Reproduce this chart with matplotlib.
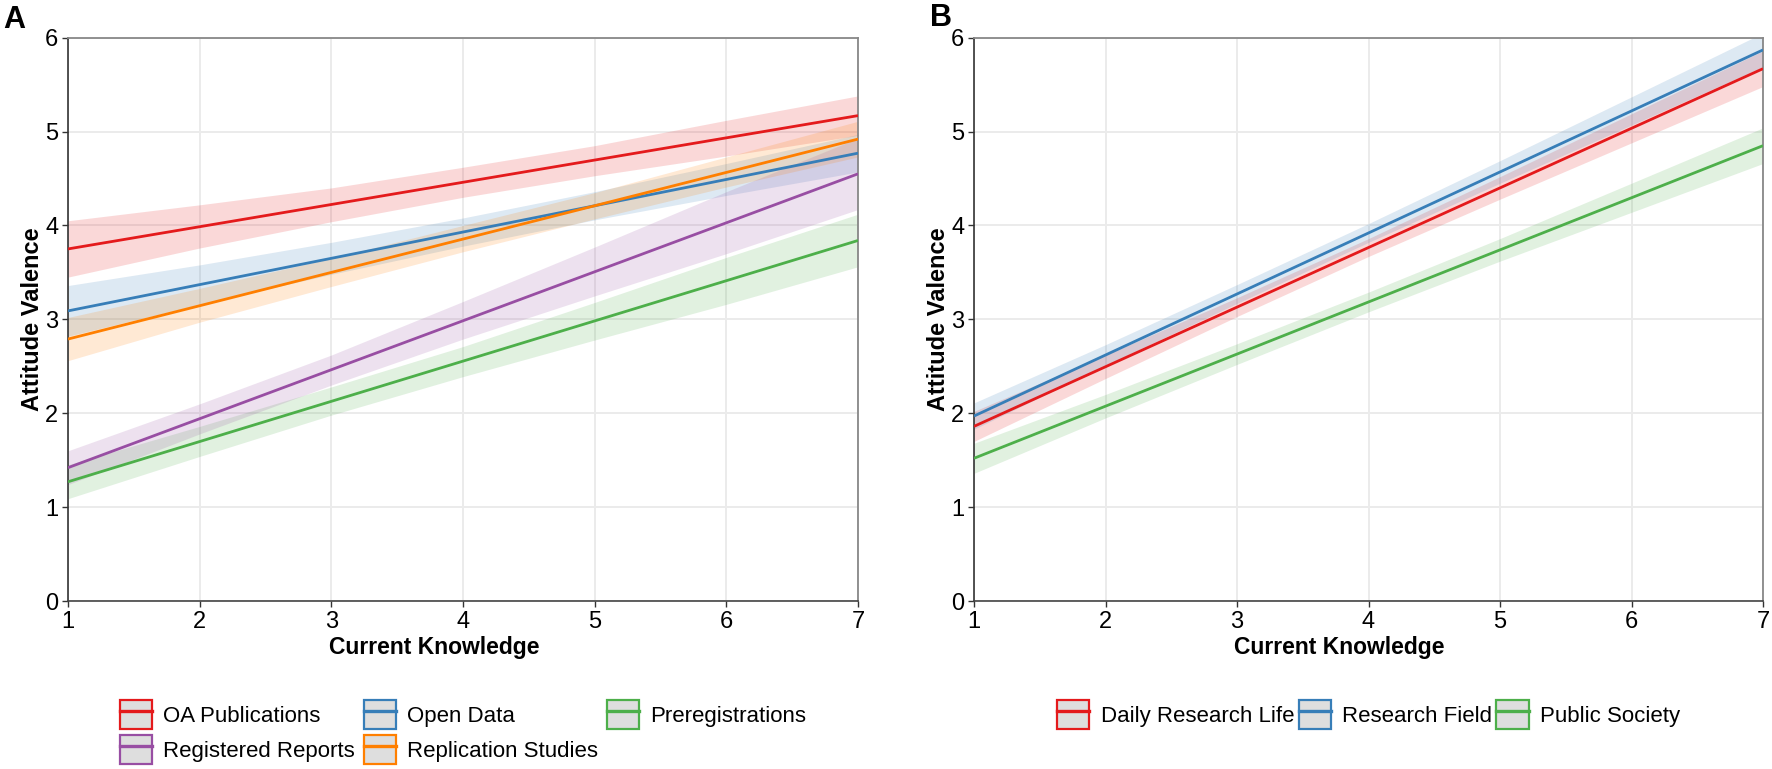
import matplotlib
matplotlib.use("Agg")
import matplotlib.pyplot as plt
from matplotlib.patches import Patch
from matplotlib.lines import Line2D

plt.rcParams['font.family'] = ['Liberation Sans', 'DejaVu Sans']

# ---------------- data ----------------
x_knots = [1, 2, 3, 4, 5, 6, 7]
x_ends = [1, 7]

# Panel A
a_names = ["OA Publications", "Open Data", "Preregistrations",
           "Registered Reports", "Replication Studies"]
a_colors = ["#E41A1C", "#377EB8", "#4DAF4A", "#984EA3", "#FF7F00"]
a_fit = [
    [3.75, 5.17],
    [3.09, 4.77],
    [1.27, 3.84],
    [1.42, 4.55],
    [2.79, 4.92],
]
a_lower = [
    [3.45, 3.76, 4.04, 4.30, 4.53, 4.74, 4.96],
    [2.82, 3.16, 3.48, 3.78, 4.06, 4.32, 4.57],
    [1.09, 1.54, 1.98, 2.39, 2.78, 3.16, 3.56],
    [1.24, 1.78, 2.30, 2.79, 3.25, 3.70, 4.17],
    [2.56, 2.97, 3.35, 3.72, 4.07, 4.41, 4.73],
]
a_upper = [
    [4.05, 4.22, 4.40, 4.62, 4.85, 5.12, 5.38],
    [3.36, 3.58, 3.82, 4.08, 4.36, 4.66, 4.97],
    [1.45, 1.86, 2.28, 2.71, 3.18, 3.66, 4.12],
    [1.60, 2.10, 2.62, 3.19, 3.77, 4.36, 4.93],
    [3.02, 3.33, 3.65, 4.00, 4.35, 4.73, 5.11],
]

# Panel B
b_names = ["Daily Research Life", "Research Field", "Public Society"]
b_colors = ["#E41A1C", "#377EB8", "#4DAF4A"]
b_fit = [
    [1.86, 5.67],
    [1.97, 5.87],
    [1.52, 4.85],
]
b_lower = [
    [1.70, 2.37, 3.03, 3.67, 4.28, 4.88, 5.48],
    [1.83, 2.51, 3.17, 3.82, 4.45, 5.07, 5.69],
    [1.36, 1.95, 2.52, 3.08, 3.62, 4.14, 4.66],
]
b_upper = [
    [2.02, 2.62, 3.23, 3.86, 4.52, 5.19, 5.86],
    [2.11, 2.73, 3.37, 4.02, 4.69, 5.37, 6.05],
    [1.68, 2.20, 2.74, 3.29, 3.86, 4.45, 5.04],
]

x_ticks = [1, 2, 3, 4, 5, 6, 7]
y_ticks = [0, 1, 2, 3, 4, 5, 6]
xlabel = "Current Knowledge"
ylabel = "Attitude Valence"

# ---------------- figure ----------------
W, H = 1772, 769
fig = plt.figure(figsize=(W / 100, H / 100), dpi=100)
ax_bottom = 1 - 601 / H
ax_height = 563.3 / H
axA = fig.add_axes([68 / W, ax_bottom, 790 / W, ax_height])
axB = fig.add_axes([974 / W, ax_bottom, 789 / W, ax_height])


def style(ax):
    ax.set_xlim(1, 7)
    ax.set_ylim(0, 6)
    ax.set_xticks(x_ticks)
    ax.set_yticks(y_ticks)
    ax.grid(True, color="#EBEBEB", lw=1.4, zorder=0)
    ax.set_axisbelow(True)
    for s in ["top", "right"]:
        ax.spines[s].set_color("#888888")
        ax.spines[s].set_linewidth(1.3)
    ax.spines["bottom"].set_color("#444444")
    ax.spines["bottom"].set_linewidth(1.2)
    ax.spines["left"].set_color("#333333")
    ax.spines["left"].set_linewidth(1.2)
    ax.tick_params(axis="both", labelsize=17, length=4, width=1.0,
                   color="#333333", labelcolor="black", pad=3)
    ax.set_xlabel(xlabel, fontsize=16.5, fontweight="bold")
    ax.xaxis.set_label_coords(0.463, -0.082, transform=ax.transAxes)
    ax.xaxis.label.set_va("center")
    ax.set_ylabel(ylabel, fontsize=17, fontweight="bold", labelpad=1)


def draw(ax, names, colors, fit, lower, upper):
    handles = []
    for name, c, f, lo, up in zip(names, colors, fit, lower, upper):
        ax.fill_between(x_knots, lo, up, color=c, alpha=0.17, lw=0, zorder=2)
    for name, c, f in zip(names, colors, fit):
        ax.plot(x_ends, f, color=c, lw=2.0, zorder=3, solid_capstyle="butt")
    for name, c in zip(names, colors):
        handles.append((Patch(facecolor="#DEDEDE", edgecolor=c, lw=1.6),
                        Line2D([], [], color=c, lw=2.4)))
    return handles


hA = draw(axA, a_names, a_colors, a_fit, a_lower, a_upper)
hB = draw(axB, b_names, b_colors, b_fit, b_lower, b_upper)
style(axA)
style(axB)

leg_kw = dict(loc="upper center", bbox_to_anchor=(0.5, -0.14),
              frameon=False, fontsize=16, handlelength=1.45,
              handleheight=1.65, handletextpad=0.5, labelspacing=0.25,
              borderpad=0.4)

# legend A: row-major order mapped into matplotlib column-major layout
orderA = [0, 3, 1, 4, 2]
axA.legend([hA[i] for i in orderA], [a_names[i] for i in orderA],
           ncol=3, columnspacing=0.4, **leg_kw)
axB.legend(hB, b_names, ncol=3, columnspacing=0.2, **leg_kw)

fig.text(3 / W, 1 - 5 / H, "A", fontsize=22, fontweight="bold",
         ha="left", va="top")
fig.text(930 / W, 1 - 3 / H, "B", fontsize=22, fontweight="bold",
         ha="left", va="top")

fig.savefig("out.png", dpi=100)
